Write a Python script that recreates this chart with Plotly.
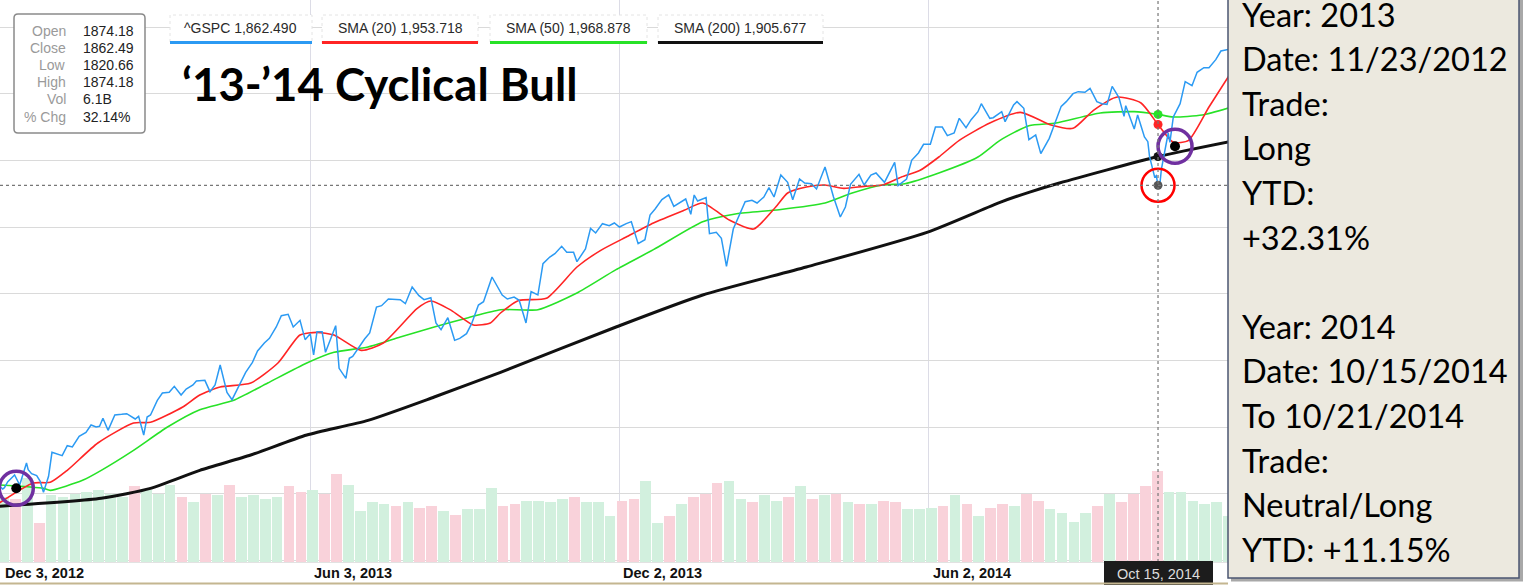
import pandas as pd
import plotly.graph_objects as go

# ^GSPC closes (about weekly, plus the swing highs/lows)
price_dates = [
    "2012-11-26", "2012-11-30", "2012-12-04", "2012-12-07", "2012-12-11", "2012-12-14",
    "2012-12-18", "2012-12-21", "2012-12-28", "2012-12-31", "2013-01-02", "2013-01-08",
    "2013-01-11", "2013-01-18", "2013-01-25", "2013-01-30", "2013-02-01", "2013-02-04",
    "2013-02-08", "2013-02-15", "2013-02-20", "2013-02-22", "2013-02-25", "2013-03-01",
    "2013-03-08", "2013-03-15", "2013-03-19", "2013-03-22", "2013-03-28", "2013-04-05",
    "2013-04-11", "2013-04-18", "2013-04-26", "2013-05-03", "2013-05-10", "2013-05-17",
    "2013-05-21", "2013-05-24", "2013-05-31", "2013-06-05", "2013-06-07", "2013-06-14",
    "2013-06-18", "2013-06-24", "2013-06-28", "2013-07-05", "2013-07-12", "2013-07-19",
    "2013-07-26", "2013-08-02", "2013-08-09", "2013-08-16", "2013-08-23", "2013-08-30",
    "2013-09-06", "2013-09-13", "2013-09-18", "2013-09-27", "2013-10-04", "2013-10-08",
    "2013-10-11", "2013-10-18", "2013-10-25", "2013-11-01", "2013-11-07", "2013-11-15",
    "2013-11-22", "2013-11-29", "2013-12-06", "2013-12-13", "2013-12-20", "2013-12-27",
    "2013-12-31", "2014-01-03", "2014-01-10", "2014-01-15", "2014-01-17", "2014-01-24",
    "2014-01-28", "2014-01-31", "2014-02-03", "2014-02-07", "2014-02-14", "2014-02-21",
    "2014-02-28", "2014-03-03", "2014-03-07", "2014-03-14", "2014-03-21", "2014-03-28",
    "2014-04-02", "2014-04-11", "2014-04-17", "2014-04-25", "2014-05-02", "2014-05-07",
    "2014-05-13", "2014-05-15", "2014-05-23", "2014-05-30", "2014-06-06", "2014-06-13",
    "2014-06-20", "2014-06-27", "2014-07-03", "2014-07-10", "2014-07-17", "2014-07-24",
    "2014-07-31", "2014-08-07", "2014-08-15", "2014-08-22", "2014-08-29", "2014-09-05",
    "2014-09-12", "2014-09-18", "2014-09-25", "2014-09-26", "2014-10-01", "2014-10-03",
    "2014-10-10", "2014-10-13", "2014-10-15", "2014-10-17", "2014-10-21", "2014-10-24",
    "2014-10-31", "2014-11-07", "2014-11-14", "2014-11-21", "2014-11-28",
]
price_close = [
    1406, 1416, 1407, 1418, 1428, 1413,
    1446, 1430, 1402, 1426, 1462, 1457,
    1472, 1486, 1503, 1501, 1513, 1495,
    1518, 1520, 1512, 1516, 1488, 1518,
    1551, 1561, 1548, 1557, 1569, 1553,
    1593, 1541, 1582, 1614, 1633, 1667,
    1669, 1650, 1631, 1608, 1643, 1626,
    1652, 1573, 1606, 1632, 1680, 1692,
    1691, 1710, 1691, 1656, 1664, 1633,
    1655, 1688, 1725, 1692, 1690, 1656,
    1703, 1745, 1760, 1762, 1748, 1798,
    1805, 1806, 1805, 1775, 1818, 1841,
    1848, 1831, 1842, 1848, 1839, 1790,
    1792, 1783, 1741, 1797, 1838, 1836,
    1859, 1845, 1878, 1841, 1866, 1857,
    1890, 1815, 1864, 1863, 1881, 1867,
    1897, 1862, 1900, 1924, 1950, 1937,
    1963, 1961, 1985, 1964, 1958, 1988,
    1931, 1910, 1955, 1988, 2003, 2008,
    1985, 2011, 1966, 1982, 1947, 1968,
    1906, 1875, 1862, 1887, 1941, 1965,
    2018, 2032, 2039, 2064, 2068,
]
# mid-week closes that give the line its day-to-day wiggle
mid_dates = [
    "2012-12-05", "2012-12-19", "2012-12-24", "2012-12-26", "2013-01-14", "2013-01-22",
    "2013-01-28", "2013-02-12", "2013-02-27", "2013-03-05", "2013-03-12", "2013-03-26",
    "2013-04-02", "2013-04-08", "2013-04-15", "2013-04-22", "2013-04-30", "2013-05-07",
    "2013-05-14", "2013-05-28", "2013-06-03", "2013-06-10", "2013-06-12", "2013-06-20",
    "2013-06-26", "2013-07-08", "2013-07-15", "2013-07-23", "2013-07-29", "2013-08-06",
    "2013-08-13", "2013-08-19", "2013-08-27", "2013-09-03", "2013-09-10", "2013-09-24",
    "2013-10-01", "2013-10-15", "2013-10-22", "2013-10-29", "2013-11-05", "2013-11-12",
    "2013-11-18", "2013-11-26", "2013-12-02", "2013-12-09", "2013-12-17", "2013-12-23",
    "2014-01-07", "2014-01-13", "2014-01-22", "2014-02-11", "2014-02-18", "2014-02-25",
    "2014-03-11", "2014-03-18", "2014-03-25", "2014-04-07", "2014-04-14", "2014-04-22",
    "2014-04-29", "2014-05-20", "2014-05-27", "2014-06-03", "2014-06-10", "2014-06-17",
    "2014-06-24", "2014-07-01", "2014-07-08", "2014-07-15", "2014-07-22", "2014-07-28",
    "2014-08-04", "2014-08-12", "2014-08-19", "2014-08-26", "2014-09-02", "2014-09-09",
    "2014-09-15", "2014-09-22", "2014-10-07", "2014-10-09", "2014-10-14", "2014-10-16",
    "2014-10-22", "2014-10-28", "2014-11-04", "2014-11-11", "2014-11-18",
]
mid_close = [
    1409, 1436, 1427, 1419, 1470, 1492,
    1500, 1519, 1515, 1540, 1552, 1563,
    1570, 1563, 1552, 1562, 1597, 1626,
    1650, 1660, 1640, 1643, 1612, 1588,
    1603, 1641, 1682, 1692, 1685, 1697,
    1694, 1646, 1630, 1640, 1683, 1698,
    1695, 1698, 1755, 1771, 1762, 1767,
    1791, 1802, 1800, 1808, 1781, 1827,
    1837, 1819, 1844, 1819, 1840, 1845,
    1867, 1872, 1865, 1845, 1830, 1879,
    1878, 1872, 1911, 1924, 1950, 1941,
    1949, 1973, 1963, 1973, 1983, 1978,
    1938, 1933, 1981, 2000, 2002, 1988,
    1984, 1994, 1935, 1928, 1877, 1862,
    1927, 1985, 2012, 2039, 2051,
]

sma20_dates = [
    "2012-12-02", "2012-12-22", "2013-01-01", "2013-01-11", "2013-01-29", "2013-02-19",
    "2013-03-01", "2013-03-20", "2013-03-30", "2013-04-11", "2013-04-29", "2013-05-15",
    "2013-05-28", "2013-06-07", "2013-06-17", "2013-07-03", "2013-07-16", "2013-08-05",
    "2013-08-13", "2013-08-25", "2013-09-07", "2013-09-17", "2013-09-23", "2013-10-04",
    "2013-10-20", "2013-11-07", "2013-11-21", "2013-12-06", "2013-12-22", "2014-01-09",
    "2014-01-20", "2014-02-05", "2014-02-19", "2014-03-04", "2014-03-11", "2014-03-22",
    "2014-04-02", "2014-04-13", "2014-04-25", "2014-05-06", "2014-05-17", "2014-05-28",
    "2014-06-08", "2014-06-20", "2014-07-08", "2014-07-26", "2014-08-13", "2014-08-26",
    "2014-09-07", "2014-09-21", "2014-10-05", "2014-10-15", "2014-10-24", "2014-11-02",
    "2014-11-14", "2014-11-26",
]
sma20 = [
    1386, 1416, 1417, 1435, 1476, 1506,
    1507, 1530, 1548, 1560, 1566, 1596,
    1638, 1642, 1638, 1615, 1626, 1678,
    1689, 1675, 1653, 1656, 1671, 1690,
    1693, 1740, 1765, 1785, 1806, 1825,
    1836, 1810, 1797, 1830, 1851, 1860,
    1863, 1858, 1861, 1863, 1875, 1885,
    1905, 1930, 1956, 1972, 1953, 1948,
    1975, 1995, 1986, 1953.7, 1927, 1930,
    1980, 2028,
]

sma50_dates = [
    "2012-12-02", "2012-12-28", "2013-01-01", "2013-01-20", "2013-01-31", "2013-02-19",
    "2013-03-11", "2013-03-30", "2013-04-19", "2013-05-09", "2013-06-01", "2013-06-17",
    "2013-07-07", "2013-07-26", "2013-08-15", "2013-09-04", "2013-09-23", "2013-10-15",
    "2013-11-07", "2013-11-30", "2013-12-22", "2014-01-20", "2014-02-09", "2014-03-06",
    "2014-04-02", "2014-04-18", "2014-05-06", "2014-05-19", "2014-06-08", "2014-07-01",
    "2014-07-14", "2014-07-31", "2014-08-16", "2014-09-11", "2014-10-01", "2014-10-15",
    "2014-10-24", "2014-11-10", "2014-11-26",
]
sma50 = [
    1413, 1408, 1405, 1420, 1435, 1465,
    1500, 1526, 1540, 1566, 1596, 1612,
    1620, 1635, 1650, 1664, 1676, 1676,
    1701, 1736, 1766, 1808, 1820, 1826,
    1836, 1851, 1863, 1865, 1881, 1905,
    1930, 1952, 1956, 1971, 1973, 1968.9,
    1965, 1968, 1979,
]

sma200_dates = [
    "2012-12-02", "2013-01-31", "2013-03-01", "2013-03-30", "2013-04-29", "2013-06-01",
    "2013-07-07", "2013-08-15", "2013-09-23", "2013-11-30", "2014-01-20", "2014-03-22",
    "2014-06-01", "2014-07-14", "2014-07-31", "2014-08-18", "2014-10-15", "2014-11-26",
]
sma200 = [
    1381, 1393, 1408, 1435, 1458, 1488,
    1510, 1545, 1582, 1650, 1698, 1740,
    1792, 1837, 1852, 1866, 1905.7, 1928,
]

# weekly volume in billions, one value per week ending on Friday
vol_weeks = pd.date_range("2012-11-30", "2014-11-28", freq="W-FRI")
volume = [
    3.6, 3.7, 3.6, 4.8, 2.2,
    3.8, 3.7, 3.9, 4.0, 4.1, 3.9, 3.7, 4.3, 4.1, 3.9, 4.4, 3.7, 3.4,
    3.9, 3.8, 4.4, 3.7, 3.8, 3.6, 3.7, 4.3, 4.0, 4.1, 3.9, 5.0, 4.4,
    2.9, 3.4, 3.3, 3.2, 3.4, 3.1, 3.2, 2.9, 2.7, 3.0, 3.0, 4.2, 3.2,
    3.3, 3.5, 3.5, 3.4, 3.6, 3.7, 3.4, 3.4, 2.6, 3.5, 3.6, 4.6, 2.2,
    2.6, 3.3, 3.7, 3.9, 4.5, 4.6, 3.6, 3.4, 3.8, 3.5, 3.7, 4.3, 3.6,
    3.8, 3.9, 3.4, 3.3, 3.3, 3.5, 3.4, 3.0, 3.0, 3.1, 3.2, 3.8, 3.3,
    2.6, 3.1, 3.3, 3.2, 3.9, 3.5, 3.0, 2.8, 2.3, 2.8, 3.2, 3.9, 3.4,
    3.9, 4.3, 5.2, 4.0, 4.0, 3.5, 3.3, 3.4, 2.6,
]
assert len(volume) == len(vol_weeks)

x_ticks = ["2012-12-03", "2013-06-03", "2013-12-02", "2014-06-02"]
x_tick_text = ["Dec 3, 2012", "Jun 3, 2013", "Dec 2, 2013", "Jun 2, 2014"]

cursor_date = "2014-10-15"
cursor_close = 1862.49
legend_text = ["^GSPC 1,862.490", "SMA (20) 1,953.718", "SMA (50) 1,968.878", "SMA (200) 1,905.677"]
info_labels = ["Open", "Close", "Low", "High", "Vol", "% Chg"]
info_values = ["1874.18", "1862.49", "1820.66", "1874.18", "6.1B", "32.14%"]

# trade markers (date, price)
entry_dates = ["2012-12-12", "2014-10-25"]
entry_prices = [1408, 1921]

notes = [
    "Year: 2013", "Date: 11/23/2012", "Trade:", "Long", "YTD:", "+32.31%", "",
    "Year: 2014", "Date: 10/15/2014", "To 10/21/2014", "Trade:", "Neutral/Long", "YTD: +11.15%",
]

BLUE, RED, GREEN, BLACK = "#2B9AF3", "#FF2424", "#27E227", "#111111"
W, H = 1524, 585
PLOT_BOTTOM = 562
PLOT_RIGHT = 1228
FONT = "Liberation Sans, Arial, sans-serif"


def px(x):
    return x / W


def py(y):
    return (PLOT_BOTTOM - y) / PLOT_BOTTOM


day0 = pd.Timestamp("2012-12-03")
px_per_day = 1.699
x_start = day0 - pd.Timedelta(days=1 / px_per_day)
x_end = day0 + pd.Timedelta(days=(PLOT_RIGHT - 1) / px_per_day)

price = pd.concat([
    pd.Series(price_close, index=pd.to_datetime(price_dates)),
    pd.Series(mid_close, index=pd.to_datetime(mid_dates)),
]).sort_index()

fig = go.Figure()

# volume bars, coloured by the weekly change of the close
closes = price.asof(vol_weeks)
up = (closes >= closes.shift(1)).tolist()
up[0] = True
fig.add_trace(go.Bar(
    x=vol_weeks - pd.Timedelta(days=2.5), y=volume,
    marker=dict(color=["#D2F0DE" if u else "#F9D2DA" for u in up], line_width=0),
    width=6.3 * 86400000, yaxis="y", hoverinfo="skip",
))

fig.add_trace(go.Scatter(x=sma200_dates, y=sma200, mode="lines", yaxis="y2",
                         line=dict(color=BLACK, width=3, shape="spline", smoothing=0.6)))
fig.add_trace(go.Scatter(x=sma50_dates, y=sma50, mode="lines", yaxis="y2",
                         line=dict(color=GREEN, width=1.6, shape="spline", smoothing=0.6)))
fig.add_trace(go.Scatter(x=sma20_dates, y=sma20, mode="lines", yaxis="y2",
                         line=dict(color=RED, width=1.6, shape="spline", smoothing=0.6)))
fig.add_trace(go.Scatter(x=price.index, y=price.values, mode="lines", yaxis="y2",
                         line=dict(color=BLUE, width=1.5)))

# crosshair values on Oct 15
fig.add_trace(go.Scatter(
    x=[cursor_date] * 3, y=[sma50[-4], sma20[-5], sma200[-2]], mode="markers", yaxis="y2",
    marker=dict(color=[GREEN, RED, BLACK], size=9),
))
fig.add_trace(go.Scatter(x=[cursor_date], y=[cursor_close], mode="markers", yaxis="y2",
                         marker=dict(color="#555555", size=9)))
fig.add_trace(go.Scatter(x=[cursor_date], y=[cursor_close], mode="markers", yaxis="y2",
                         marker=dict(symbol="circle-open", size=33, color="#FF0000",
                                     line=dict(width=2.5, color="#FF0000"))))
fig.add_trace(go.Scatter(x=entry_dates, y=entry_prices, mode="markers", yaxis="y2",
                         marker=dict(color="black", size=10)))
fig.add_trace(go.Scatter(x=entry_dates, y=entry_prices, mode="markers", yaxis="y2",
                         marker=dict(symbol="circle-open", size=34, color="#7030A0",
                                     line=dict(width=3.5, color="#7030A0"))))

shapes = []
# crosshair lines
shapes.append(dict(type="line", xref="x", yref="paper", x0=cursor_date, x1=cursor_date,
                   y0=0, y1=1, line=dict(color="#777777", width=1.2, dash="3px,3px"), layer="above"))
shapes.append(dict(type="line", xref="paper", yref="y2", x0=0, x1=px(PLOT_RIGHT),
                   y0=cursor_close, y1=cursor_close,
                   line=dict(color="#777777", width=1.2, dash="3px,3px"), layer="above"))


def rounded(x0, y0, x1, y1, r):
    pts = [("M", x0 + r, y0), ("L", x1 - r, y0), ("Q", x1, y0, x1, y0 + r), ("L", x1, y1 - r),
           ("Q", x1, y1, x1 - r, y1), ("L", x0 + r, y1), ("Q", x0, y1, x0, y1 - r),
           ("L", x0, y0 + r), ("Q", x0, y0, x0 + r, y0)]
    out = []
    for p in pts:
        coords = " ".join(f"{px(p[i]):.5f},{py(p[i + 1]):.5f}" for i in range(1, len(p), 2))
        out.append(f"{p[0]} {coords}")
    return " ".join(out) + " Z"


# info box top left
shapes.append(dict(type="path", xref="paper", yref="paper", path=rounded(14, 14, 145, 133, 4),
                   fillcolor="white", line=dict(color="#8A8A8A", width=1.5), layer="above"))

# legend boxes
legend_boxes = [(170, 312, BLUE), (322, 478, RED), (490, 647, GREEN), (658, 823, BLACK)]
for x0, x1, c in legend_boxes:
    shapes.append(dict(type="rect", xref="paper", yref="paper", x0=px(x0), x1=px(x1),
                       y0=py(43), y1=py(15), fillcolor="white",
                       line=dict(color="#E4E4E4", width=1, dash="dot"), layer="above"))
    shapes.append(dict(type="line", xref="paper", yref="paper", x0=px(x0), x1=px(x1),
                       y0=py(42.5), y1=py(42.5), line=dict(color=c, width=3), layer="above"))

# date flag under the crosshair
shapes.append(dict(type="rect", xref="paper", yref="paper", x0=px(1104), x1=px(1213),
                   y0=py(586), y1=py(561), fillcolor="#1C1C1C", line_width=0, layer="above"))

# note box on the right
shapes.append(dict(type="rect", xref="paper", yref="paper", x0=px(1231), x1=px(1523),
                   y0=py(581.5), y1=py(-5), fillcolor="#A8A8A8", line_width=0, layer="above"))
shapes.append(dict(type="rect", xref="paper", yref="paper", x0=px(1228), x1=px(1519),
                   y0=py(578), y1=py(-5), fillcolor="#ECE9DF",
                   line=dict(color="#4B5672", width=1.5), layer="above"))
# bottom rule
shapes.append(dict(type="line", xref="paper", yref="paper", x0=0, x1=px(1228),
                   y0=py(583.5), y1=py(583.5), line=dict(color="#C4B690", width=2), layer="above"))

ann = []
ann.append(dict(text="\u201813-\u201914 Cyclical Bull", x=px(180), y=py(84), xref="paper", yref="paper",
                xanchor="left", yanchor="middle", showarrow=False,
                font=dict(family="Lato", size=45.5, color="black", weight="bold")))
rows = [31, 48, 65, 82, 99, 117]
for lab, val, yy in zip(info_labels, info_values, rows):
    ann.append(dict(text=lab, x=px(68), y=py(yy), xref="paper", yref="paper", xanchor="right",
                    yanchor="middle", showarrow=False, font=dict(family=FONT, size=14, color="#9A9A9A")))
    ann.append(dict(text=val, x=px(81), y=py(yy), xref="paper", yref="paper", xanchor="left",
                    yanchor="middle", showarrow=False, font=dict(family=FONT, size=14, color="#222222")))
for (x0, x1, c), t in zip(legend_boxes, legend_text):
    ann.append(dict(text=t, x=px((x0 + x1) / 2), y=py(28.5), xref="paper", yref="paper",
                    xanchor="center", yanchor="middle", showarrow=False,
                    font=dict(family=FONT, size=14, color="#2A2A2A")))
for d, t in zip(x_ticks, x_tick_text):
    ann.append(dict(text=f"<b>{t}</b>", x=d, y=0, xref="x", yref="paper", xanchor="left",
                    yanchor="top", xshift=2, yshift=-1, showarrow=False,
                    font=dict(family=FONT, size=14.5, color="#111111")))
ann.append(dict(text="Oct 15, 2014", x=px(1158.5), y=py(573.5), xref="paper", yref="paper",
                xanchor="center", yanchor="middle", showarrow=False,
                font=dict(family=FONT, size=14.5, color="#DDDDDD")))
for i, line in enumerate(notes):
    if line:
        ann.append(dict(text=line, x=px(1240), y=py(26 + i * 44.6 - 12), xref="paper", yref="paper",
                        xanchor="left", yanchor="middle", showarrow=False,
                        font=dict(family="Lato", size=32.5, color="black")))

fig.update_layout(
    width=W, height=H,
    margin=dict(l=0, r=0, t=0, b=H - PLOT_BOTTOM),
    paper_bgcolor="white", plot_bgcolor="white",
    showlegend=False,
    bargap=0,
    xaxis=dict(type="date", range=[x_start, x_end], domain=[0, px(PLOT_RIGHT)],
               tickvals=x_ticks, showticklabels=False, ticks="",
               showgrid=True, gridcolor="#DCDCE6", gridwidth=1,
               showline=True, linecolor="#E2E2E2", zeroline=False),
    yaxis=dict(range=[0, 32], showgrid=False, showticklabels=False, zeroline=False, ticks=""),
    yaxis2=dict(overlaying="y", anchor="x", side="right", range=[1297.5, 2140.5],
                tick0=0, dtick=100, showgrid=True, gridcolor="#DADADA", gridwidth=1,
                showticklabels=False, zeroline=False, ticks=""),
    shapes=shapes,
    annotations=ann,
)

# the page's default 8px body margin would push the figure off the window
fig.write_html("out.html", config={"displayModeBar": False},
               post_script="document.body.style.margin='0px';")
